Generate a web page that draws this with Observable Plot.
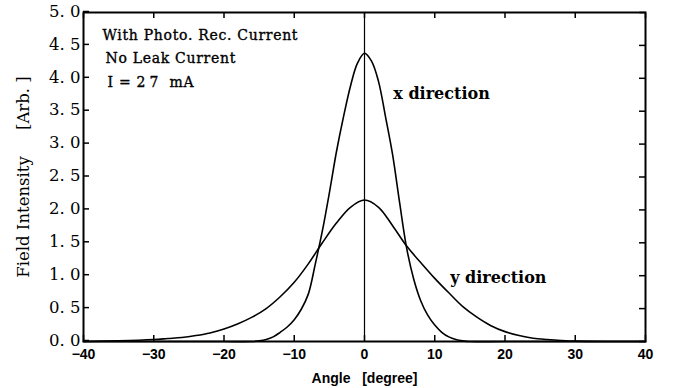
<!DOCTYPE html>
<html>
<head>
<meta charset="utf-8">
<script src="https://cdn.jsdelivr.net/npm/d3@7"></script>
<script src="https://cdn.jsdelivr.net/npm/@observablehq/plot@0.6"></script>
<style>
  html, body { margin: 0; padding: 0; background: #fff; }
  #chart svg { display: block; }
</style>
</head>
<body>
<div id="chart"></div>
<script>
// Data
const xDirAngle = [-40,-20,-16,-15,-14,-13,-12,-11,-10,-9,-8,-7,-6,-5,-4,-3,-2,-1,0,1,2,3,4,5,6,7,8,9,10,11,12,13,14,15,20,40];
const xDirValue = [0,0,0,0.01,0.03,0.07,0.14,0.22,0.33,0.49,0.72,1.18,1.68,2.26,2.88,3.41,3.88,4.23,4.38,4.26,3.95,3.41,2.84,2.11,1.42,0.95,0.62,0.40,0.25,0.14,0.07,0.03,0.01,0,0,0];

const yDirAngle = [-40,-35,-30,-28,-26,-24,-22,-20,-18,-16,-14,-12,-10,-8,-6,-4,-2,0,2,4,6,8,10,12,14,16,18,20,22,24,26,28,30,35,40];
const yDirValue = [0,0.01,0.03,0.045,0.06,0.09,0.13,0.19,0.27,0.37,0.50,0.68,0.90,1.18,1.50,1.80,2.04,2.15,2.04,1.76,1.45,1.20,0.96,0.74,0.53,0.37,0.24,0.15,0.09,0.05,0.03,0.015,0.005,0,0];

const xTicks = [-40,-30,-20,-10,0,10,20,30,40];
const yTicks = [0,0.5,1,1.5,2,2.5,3,3.5,4,4.5,5];

const curveLabels = ["x direction", "y direction"];
const curveLabelAngle = [4.1, 12.2];
const curveLabelValue = [3.77, 0.96];

const noteLines = ["With Photo. Rec. Current", "No Leak Current", "I = 2\u20097\u00a0\u00a0mA"];

const xAxisTitle = "Angle\u00a0\u00a0\u00a0[degree]";
const yAxisTitle = "Field Intensity\u00a0\u00a0\u00a0\u00a0\u00a0[Arb.\u00a0]";

const xDir = xDirAngle.map((a, i) => ({angle: a, value: xDirValue[i]}));
const yDir = yDirAngle.map((a, i) => ({angle: a, value: yDirValue[i]}));
const curveLabelData = curveLabels.map((t, i) => ({text: t, angle: curveLabelAngle[i], value: curveLabelValue[i]}));

const serif = "'DejaVu Serif', 'Liberation Serif', serif";
const sans = "'Liberation Sans', Arial, sans-serif";

const noteStyle = {frameAnchor: "top-left", lineAnchor: "middle", textAnchor: "start",
  fontFamily: serif, fontSize: 14, fill: "#000", stroke: "#000", strokeWidth: 0.35};

const chart = Plot.plot({
  width: 682,
  height: 388,
  marginLeft: 83,
  marginRight: 37,
  marginTop: 12,
  marginBottom: 47,
  x: {domain: [-40, 40]},
  y: {domain: [0, 5]},
  marks: [
    Plot.axisX(xTicks, {anchor: "bottom", tickSize: -6, tickPadding: 14, strokeWidth: 1.5,
      fontFamily: sans, fontSize: 14, fontWeight: "bold", fill: "#000", label: null}),
    Plot.axisX(xTicks, {anchor: "top", tickSize: -5, tickFormat: () => "", strokeWidth: 1.5, label: null}),
    Plot.axisY(yTicks, {anchor: "left", tickSize: -6, tickPadding: 9, strokeWidth: 1.5, dy: -1,
      tickFormat: d => d.toFixed(1).replace(".", ".\u00a0"),
      fontFamily: serif, fontSize: 16.5, fill: "#000", label: null}),
    Plot.axisY(yTicks, {anchor: "right", tickSize: -7, tickFormat: () => "", strokeWidth: 1.5, label: null}),
    Plot.frame({stroke: "#000", strokeWidth: 2}),
    Plot.ruleX([0], {stroke: "#000", strokeWidth: 1.2}),
    Plot.line(xDir, {x: "angle", y: "value", curve: "catmull-rom", stroke: "#000", strokeWidth: 1.6}),
    Plot.line(yDir, {x: "angle", y: "value", curve: "catmull-rom", stroke: "#000", strokeWidth: 1.6}),
    Plot.text(curveLabelData, {x: "angle", y: "value", text: "text", textAnchor: "start",
      fontFamily: serif, fontSize: 16, fontWeight: "bold", fill: "#000"}),
    Plot.text([noteLines[0]], {...noteStyle, text: d => d, dx: 19, dy: 23}),
    Plot.text([noteLines[1]], {...noteStyle, text: d => d, dx: 22, dy: 46}),
    Plot.text([noteLines[2]], {...noteStyle, text: d => d, dx: 24, dy: 70}),
    Plot.text([xAxisTitle], {frameAnchor: "bottom", text: d => d, dy: 37, lineAnchor: "middle",
      textAnchor: "middle", fontFamily: sans, fontSize: 14, fontWeight: "bold", fill: "#000"}),
    Plot.text([yAxisTitle], {frameAnchor: "left", text: d => d, dx: -60, rotate: -90, lineAnchor: "middle",
      textAnchor: "middle", fontFamily: serif, fontSize: 16.5, fill: "#000"})
  ]
});

// widen the letter spacing of the note lines, as in the reference
chart.querySelectorAll("text").forEach(t => {
  if (noteLines.includes(t.textContent)) t.style.letterSpacing = "0.7px";
});

document.getElementById("chart").appendChild(chart);
</script>
</body>
</html>
